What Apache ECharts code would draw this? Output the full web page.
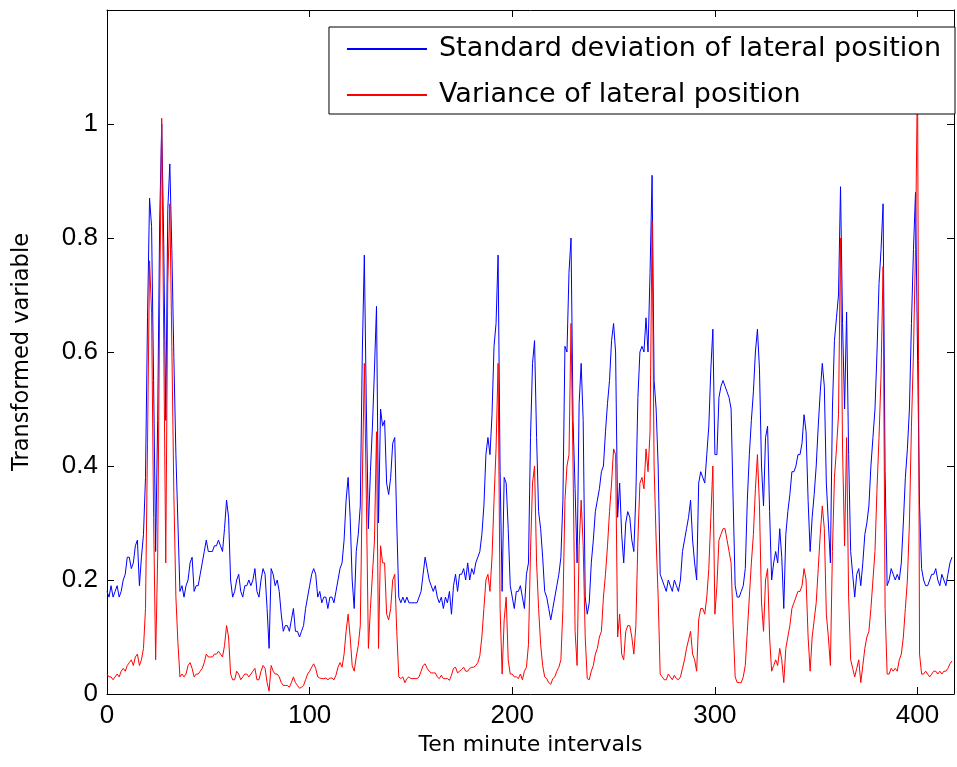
<!DOCTYPE html>
<html>
<head>
<meta charset="utf-8">
<script src="https://cdn.jsdelivr.net/npm/echarts@6/dist/echarts.min.js"></script>
<style>
html,body{margin:0;padding:0;background:#fff;}
#chart{width:957px;height:767px;}
</style>
</head>
<body>
<div id="chart"></div>
<script>
var seriesNames = ['Standard deviation of lateral position', 'Variance of lateral position'];
var xTicks = [0, 100, 200, 300, 400];
var yTicks = [0, 0.2, 0.4, 0.6, 0.8, 1];

var sdValues = [
0.18,0.17,0.19,0.17,0.18,0.19,0.17,0.18,0.20,0.21,
0.24,0.24,0.22,0.23,0.26,0.27,0.19,0.24,0.28,0.38,
0.66,0.87,0.82,0.55,0.25,0.48,0.83,1.00,0.79,0.48,
0.85,0.93,0.78,0.59,0.42,0.30,0.18,0.19,0.17,0.19,
0.20,0.23,0.24,0.18,0.19,0.19,0.21,0.23,0.25,0.27,
0.25,0.25,0.25,0.26,0.26,0.27,0.26,0.25,0.29,0.34,
0.31,0.20,0.17,0.18,0.20,0.21,0.18,0.17,0.19,0.19,
0.20,0.19,0.20,0.22,0.18,0.17,0.20,0.22,0.21,0.15,
0.08,0.22,0.21,0.19,0.20,0.18,0.14,0.11,0.12,0.12,
0.11,0.13,0.15,0.11,0.11,0.10,0.11,0.12,0.15,0.17,
0.19,0.21,0.22,0.21,0.17,0.18,0.16,0.17,0.17,0.15,
0.17,0.17,0.16,0.18,0.20,0.22,0.23,0.27,0.34,0.38,
0.31,0.20,0.15,0.25,0.28,0.33,0.60,0.77,0.50,0.29,
0.39,0.47,0.57,0.68,0.30,0.50,0.47,0.48,0.37,0.35,
0.38,0.44,0.45,0.30,0.17,0.16,0.17,0.16,0.17,0.16,
0.16,0.16,0.16,0.16,0.17,0.18,0.21,0.24,0.22,0.20,
0.19,0.18,0.19,0.17,0.16,0.17,0.15,0.17,0.16,0.18,
0.14,0.19,0.21,0.18,0.21,0.21,0.22,0.20,0.23,0.20,
0.22,0.21,0.23,0.24,0.25,0.28,0.33,0.42,0.45,0.42,
0.49,0.61,0.65,0.77,0.39,0.18,0.38,0.37,0.29,0.19,
0.17,0.15,0.18,0.18,0.19,0.17,0.15,0.21,0.23,0.45,
0.58,0.62,0.45,0.32,0.29,0.24,0.18,0.17,0.15,0.13,
0.15,0.17,0.19,0.21,0.24,0.34,0.61,0.60,0.74,0.80,
0.48,0.36,0.23,0.51,0.58,0.48,0.17,0.14,0.16,0.23,
0.27,0.32,0.34,0.36,0.39,0.40,0.46,0.51,0.55,0.62,
0.65,0.60,0.31,0.37,0.28,0.23,0.30,0.32,0.31,0.27,
0.25,0.35,0.52,0.60,0.61,0.60,0.66,0.60,0.74,0.91,
0.55,0.50,0.40,0.21,0.20,0.19,0.18,0.20,0.19,0.18,
0.20,0.19,0.18,0.20,0.25,0.27,0.29,0.31,0.34,0.27,
0.23,0.20,0.37,0.39,0.38,0.37,0.42,0.47,0.57,0.64,
0.42,0.42,0.52,0.54,0.55,0.54,0.53,0.52,0.50,0.34,
0.19,0.17,0.17,0.18,0.19,0.22,0.34,0.42,0.48,0.53,
0.60,0.64,0.57,0.40,0.33,0.45,0.47,0.32,0.20,0.23,
0.25,0.23,0.29,0.24,0.15,0.28,0.32,0.35,0.39,0.39,
0.40,0.42,0.42,0.44,0.49,0.46,0.34,0.25,0.31,0.35,
0.40,0.47,0.53,0.58,0.54,0.37,0.30,0.23,0.50,0.62,
0.66,0.70,0.89,0.65,0.50,0.67,0.42,0.25,0.21,0.17,
0.21,0.22,0.19,0.23,0.28,0.30,0.33,0.40,0.45,0.50,
0.60,0.72,0.78,0.86,0.39,0.19,0.20,0.22,0.21,0.20,
0.21,0.20,0.23,0.30,0.38,0.43,0.50,0.65,0.78,0.88,
0.60,0.33,0.22,0.20,0.19,0.19,0.20,0.21,0.21,0.22,
0.20,0.19,0.21,0.20,0.19,0.21,0.23,0.24
];

var varValues = [
0.035,0.03,0.03,0.025,0.03,0.035,0.03,0.04,0.045,0.04,
0.05,0.055,0.06,0.05,0.065,0.07,0.05,0.06,0.08,0.15,
0.44,0.76,0.67,0.31,0.06,0.24,0.69,1.01,0.62,0.23,
0.72,0.86,0.61,0.35,0.17,0.09,0.03,0.035,0.03,0.035,
0.05,0.055,0.045,0.03,0.035,0.035,0.04,0.045,0.055,0.07,
0.065,0.065,0.065,0.07,0.07,0.075,0.07,0.065,0.085,0.12,
0.10,0.035,0.025,0.025,0.04,0.035,0.025,0.03,0.035,0.035,
0.03,0.035,0.04,0.045,0.025,0.025,0.04,0.05,0.045,0.02,
0.005,0.05,0.04,0.035,0.035,0.03,0.02,0.015,0.015,0.015,
0.012,0.02,0.03,0.02,0.015,0.01,0.012,0.015,0.025,0.035,
0.04,0.047,0.053,0.045,0.03,0.028,0.027,0.027,0.028,0.025,
0.028,0.028,0.025,0.033,0.047,0.055,0.047,0.07,0.11,0.14,
0.10,0.05,0.04,0.065,0.085,0.12,0.37,0.58,0.34,0.08,
0.15,0.21,0.27,0.46,0.08,0.26,0.23,0.23,0.14,0.13,
0.15,0.20,0.21,0.11,0.03,0.027,0.03,0.02,0.027,0.03,
0.027,0.027,0.027,0.027,0.03,0.04,0.05,0.053,0.045,0.04,
0.037,0.037,0.037,0.03,0.027,0.033,0.027,0.027,0.027,0.024,
0.033,0.045,0.047,0.037,0.04,0.043,0.047,0.04,0.04,0.045,
0.047,0.047,0.05,0.055,0.067,0.10,0.15,0.20,0.21,0.18,
0.24,0.34,0.43,0.58,0.15,0.035,0.13,0.17,0.06,0.035,
0.035,0.03,0.03,0.027,0.035,0.025,0.04,0.047,0.087,0.25,
0.37,0.40,0.23,0.15,0.087,0.05,0.03,0.027,0.02,0.017,
0.027,0.03,0.04,0.047,0.06,0.15,0.34,0.40,0.42,0.65,
0.40,0.11,0.05,0.26,0.34,0.26,0.10,0.027,0.025,0.04,
0.05,0.07,0.08,0.10,0.11,0.17,0.21,0.26,0.32,0.37,
0.43,0.42,0.10,0.14,0.07,0.06,0.11,0.12,0.12,0.10,
0.07,0.12,0.27,0.37,0.38,0.36,0.43,0.39,0.46,0.83,
0.40,0.27,0.17,0.035,0.03,0.025,0.025,0.035,0.03,0.025,
0.033,0.027,0.025,0.03,0.045,0.06,0.08,0.095,0.11,0.07,
0.06,0.04,0.13,0.15,0.15,0.14,0.17,0.22,0.31,0.40,
0.14,0.19,0.27,0.28,0.29,0.29,0.27,0.25,0.23,0.12,
0.03,0.02,0.02,0.02,0.03,0.05,0.11,0.17,0.23,0.28,
0.36,0.42,0.33,0.16,0.11,0.20,0.22,0.10,0.04,0.05,
0.06,0.05,0.08,0.06,0.02,0.08,0.10,0.12,0.15,0.16,
0.17,0.18,0.18,0.19,0.22,0.20,0.10,0.04,0.10,0.13,
0.16,0.22,0.28,0.33,0.29,0.14,0.10,0.05,0.25,0.38,
0.43,0.49,0.80,0.43,0.26,0.45,0.17,0.06,0.045,0.03,
0.045,0.06,0.02,0.05,0.08,0.10,0.11,0.15,0.20,0.25,
0.36,0.45,0.56,0.75,0.15,0.035,0.035,0.045,0.04,0.045,
0.04,0.06,0.07,0.10,0.15,0.20,0.30,0.47,0.60,0.78,
1.10,0.07,0.035,0.035,0.04,0.035,0.03,0.035,0.04,0.04,
0.035,0.04,0.035,0.04,0.04,0.045,0.053,0.058
];

function pairs(arr){ return arr.map(function(v,i){ return [i, v]; }); }

var tickFont = 'Liberation Sans, Arial, sans-serif';
var textFont = 'DejaVu Sans, sans-serif';
var chart = echarts.init(document.getElementById('chart'), null, {renderer:'canvas'});

var axisLineStyle = {show:true, onZero:false, lineStyle:{color:'#000', width:1}};
var tickStyle = {show:true, inside:true, length:7, lineStyle:{color:'#000', width:1}};

chart.setOption({
  animation: false,
  backgroundColor: '#fff',
  grid: {left:107, right:-1, top:10, bottom:73, containLabel:false},
  legend: {
    data: seriesNames,
    orient: 'vertical',
    right: 2,
    top: 27,
    backgroundColor: '#fff',
    borderColor: '#000',
    borderWidth: 1,
    borderRadius: 0,
    padding: [5, 14, 2, 18],
    icon: 'rect',
    itemWidth: 80,
    itemHeight: 2,
    itemGap: 12,
    textStyle: {fontFamily: textFont, fontSize: 27, color: '#000', lineHeight: 34, padding:[0,0,0,7]}
  },
  xAxis: [{
    type: 'value', min: 0, max: 418, interval: 100,
    name: 'Ten minute intervals', nameLocation: 'middle', nameGap: 40,
    nameTextStyle: {fontFamily: textFont, fontSize: 22, color: '#000'},
    axisLine: axisLineStyle, axisTick: tickStyle,
    axisLabel: {fontFamily: tickFont, fontSize: 26, color: '#000', margin: 9,
      formatter: function(v){ return xTicks.indexOf(v) >= 0 ? String(v) : ''; }},
    splitLine: {show:false}
  },{
    type: 'value', min: 0, max: 418, interval: 100, position: 'top',
    axisLine: axisLineStyle, axisTick: tickStyle, axisLabel: {show:false}, splitLine:{show:false}
  }],
  yAxis: [{
    type: 'value', min: 0, max: 1.2, interval: 0.2,
    name: 'Transformed variable', nameLocation: 'middle', nameGap: 73,
    nameTextStyle: {fontFamily: textFont, fontSize: 22.5, color: '#000'},
    axisLine: axisLineStyle, axisTick: tickStyle,
    axisLabel: {fontFamily: tickFont, fontSize: 26, color: '#000', margin: 9,
      formatter: function(v){
        var r = Math.round(v*10)/10;
        for (var k=0;k<yTicks.length;k++){ if (Math.abs(yTicks[k]-r)<1e-9) return String(yTicks[k]); }
        return '';
      }},
    splitLine: {show:false}
  },{
    type: 'value', min: 0, max: 1.2, interval: 0.2, position: 'right',
    axisLine: axisLineStyle, axisTick: tickStyle, axisLabel: {show:false}, splitLine:{show:false}
  }],
  series: [{
    name: seriesNames[0], type: 'line', data: pairs(sdValues),
    symbol: 'none', lineStyle: {color:'#0000ff', width:1}, itemStyle:{color:'#0000ff'}, z: 2
  },{
    name: seriesNames[1], type: 'line', data: pairs(varValues),
    symbol: 'none', lineStyle: {color:'#ff0000', width:1}, itemStyle:{color:'#ff0000'}, z: 3
  }]
});
</script>
</body>
</html>
